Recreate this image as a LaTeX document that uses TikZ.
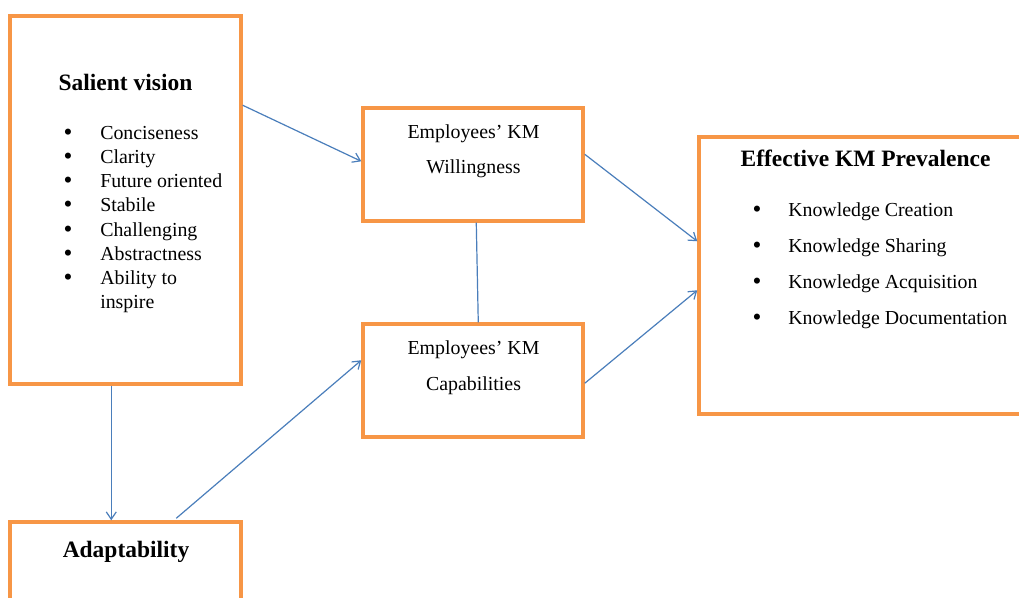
\documentclass[tikz,border=0pt]{standalone}
\usepackage{fontspec}
\setmainfont{Liberation Serif}
\usetikzlibrary{arrows.meta,calc}
\definecolor{boxorange}{HTML}{F79646}
\definecolor{linkblue}{HTML}{4A7EBB}
\begin{document}
\begin{tikzpicture}[x=0.75pt,y=-0.75pt,
  box/.style={draw=boxorange,line width=2.6pt,rectangle,inner sep=0pt},
  link/.style={draw=linkblue,line width=0.9pt},
  arr/.style={link,-{Straight Barb[length=5.5pt,width=7.5pt]}},
  title/.style={font=\fontsize{17.6}{20}\selectfont\bfseries,anchor=base,inner sep=0pt},
  body/.style={font=\fontsize{14.9}{17}\selectfont,anchor=base west,inner sep=0pt},
  bul/.style={font=\fontsize{19}{20}\selectfont,anchor=base,inner sep=0pt},
  ctext/.style={font=\fontsize{14.9}{17}\selectfont,anchor=base,inner sep=0pt}]
\useasboundingbox (0,0) rectangle (1019,597);
\fill[white] (0,0) rectangle (1019,597);
\clip (0,0) rectangle (1019,597);
% boxes
\node[box,minimum width=173.25pt,minimum height=276pt] (sal) at (125.5,200) {};
\node[box,minimum width=165pt,minimum height=84.75pt] (will) at (473,164.5) {};
\node[box,minimum width=165pt,minimum height=84.75pt] (cap) at (473,380.5) {};
\node[box,minimum width=255.75pt,minimum height=207.75pt] (eff) at (869.5,275.5) {};
\node[box,minimum width=173.25pt,minimum height=88.5pt] (ada) at (125.5,581) {};
% Salient vision
\node[title] (saltitle) at (125.5,90.5) {Salient vision};
\foreach \t [count=\i from 0] in {Conciseness,Clarity,Future oriented,Stabile,Challenging,Abstractness,Ability to} {
  \node[bul] (sb\i) at (68,140.5+24.15*\i) {•};
  \node[body] (st\i) at (100,139.5+24.15*\i) {\t};
}
\node[body] (st7) at (100,308) {inspire};
% middle boxes
\node[ctext] (willa) at (473.5,138.3) {Employees’ KM};
\node[ctext] (willb) at (473.5,173.3) {Willingness};
\node[ctext] (capa) at (473.5,354.3) {Employees’ KM};
\node[ctext] (capb) at (473.5,390) {Capabilities};
% Effective KM
\node[title] (efftitle) at (865.5,166.5) {Effective KM Prevalence};
\foreach \t/\yy [count=\i] in {Knowledge Creation/216.7,Knowledge Sharing/252.5,Knowledge Acquisition/288.3,Knowledge Documentation/324} {
  \node[bul] (eb\i) at (757,\yy+1) {•};
  \node[body] (et\i) at (788,\yy) {\t};
}
% Adaptability
\node[title] (adatitle) at (126,557.5) {Adaptability};
% connectors
\draw[arr] ($(sal.north east)+(0,91)$) -- ($(will.north west)+(0,55)$);
\draw[arr] ($(will.north east)+(0,48)$) -- ($(eff.north west)+(0,106)$);
\draw[arr] ($(cap.north east)+(0,61)$) -- ($(eff.north west)+(0,155)$);
\draw[arr] ($(ada.north west)+(168,-2)$) -- ($(cap.north west)+(0,38)$);
\draw[arr] ($(sal.south west)+(103,0)$) -- ($(ada.north west)+(103,0)$);
\draw[link] ($(will.south west)+(115,0)$) -- ($(cap.north west)+(117,0)$);
\end{tikzpicture}
\end{document}
